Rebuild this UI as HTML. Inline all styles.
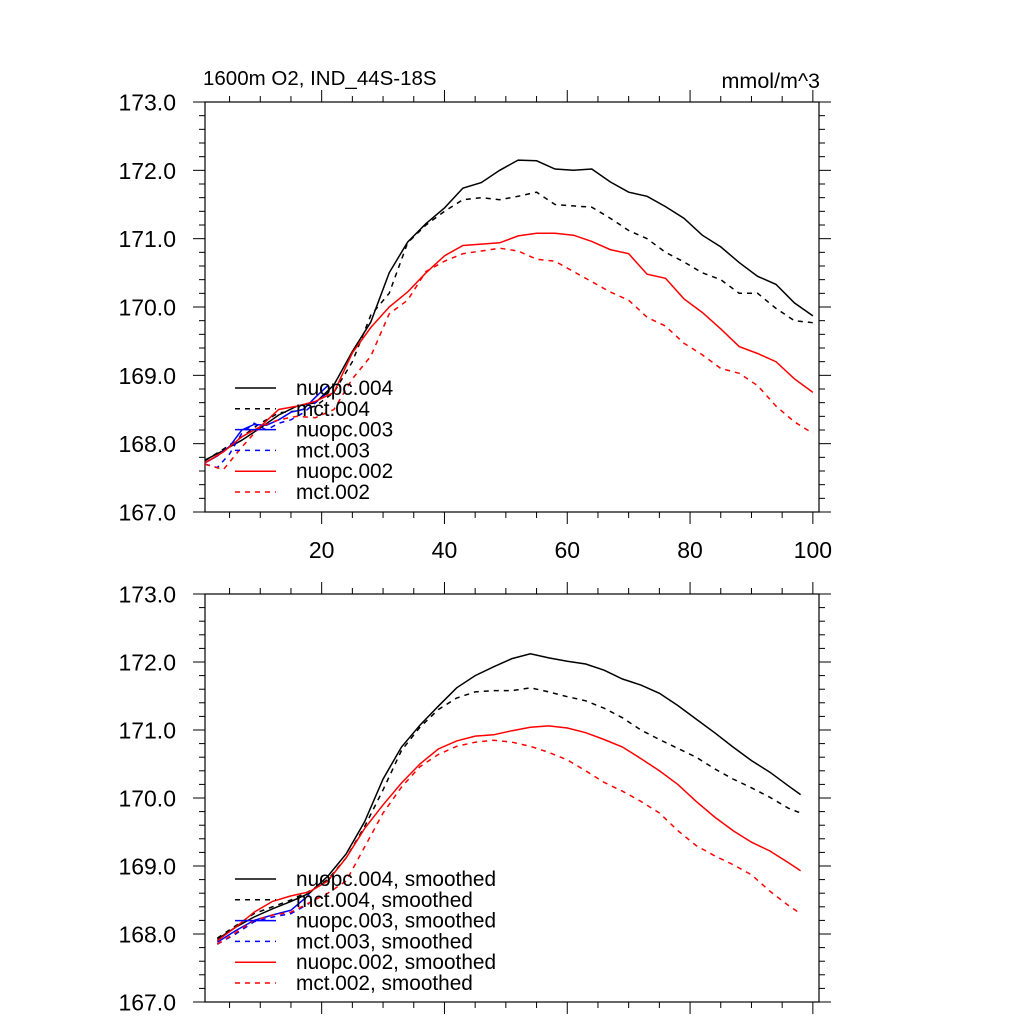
<!DOCTYPE html>
<html><head><meta charset="utf-8"><style>
body{margin:0;background:#fff;}
svg{display:block;font-family:"Liberation Sans",sans-serif;}
</style></head><body>
<svg id="chart" width="1024" height="1024" viewBox="0 0 1024 1024">
<text x="203" y="85" font-size="20.5">1600m O2, IND_44S-18S</text>
<text x="820" y="88" font-size="21.5" text-anchor="end">mmol/m^3</text>
</svg>
<script>
// ---- data ----
const yearsTop = [1,4,7,10,13,16,19,22,25,28,31,34,37,40,43,46,49,52,55,58,61,64,67,70,73,76,79,82,85,88,91,94,97,100];
const nuopc004 = [167.76,167.9,168.05,168.23,168.42,168.55,168.6,168.86,169.35,169.78,170.5,170.95,171.22,171.45,171.74,171.82,172.0,172.15,172.14,172.02,172.0,172.02,171.83,171.68,171.62,171.47,171.3,171.05,170.88,170.65,170.45,170.33,170.06,169.87];
const mct004 = [167.75,167.92,168.1,168.3,168.45,168.48,168.55,168.75,169.2,169.88,170.2,170.94,171.2,171.4,171.57,171.6,171.57,171.62,171.68,171.5,171.48,171.46,171.3,171.12,171.0,170.8,170.66,170.5,170.4,170.2,170.2,169.98,169.8,169.77];
const nuopc002 = [167.72,167.88,168.1,168.25,168.5,168.55,168.62,168.75,169.33,169.7,170.0,170.22,170.5,170.75,170.9,170.92,170.94,171.04,171.08,171.08,171.05,170.96,170.84,170.78,170.48,170.42,170.12,169.92,169.68,169.42,169.32,169.2,168.95,168.75];
const mct002 = [167.7,167.62,167.95,168.25,168.35,168.4,168.38,168.5,168.95,169.28,169.9,170.1,170.52,170.67,170.78,170.82,170.86,170.82,170.7,170.67,170.52,170.37,170.22,170.1,169.85,169.72,169.47,169.3,169.1,169.03,168.85,168.55,168.32,168.15];
const yearsBlueTop = [1,3,5,7,9,11,13,15,17,19,21];
const nuopc003 = [167.72,167.82,167.96,168.2,168.28,168.27,168.35,168.46,168.5,168.68,168.85];
const mct003 = [167.7,167.65,167.85,168.15,168.3,168.2,168.3,168.35,168.45,168.6,168.75];

const yearsBot = [3,6,9,12,15,18,21,24,27,30,33,36,39,42,45,48,51,54,57,60,63,66,69,72,75,78,81,84,87,90,93,96,98];
const nuopc004s = [167.92,168.1,168.25,168.37,168.48,168.6,168.85,169.18,169.65,170.28,170.75,171.07,171.35,171.62,171.8,171.93,172.05,172.12,172.06,172.01,171.97,171.88,171.75,171.66,171.54,171.36,171.16,170.96,170.75,170.55,170.38,170.18,170.05];
const mct004s = [167.94,168.12,168.3,168.4,168.5,168.63,168.8,169.12,169.58,170.12,170.7,171.04,171.3,171.47,171.56,171.58,171.58,171.62,171.56,171.49,171.43,171.32,171.18,171.0,170.86,170.73,170.6,170.43,170.28,170.15,170.01,169.85,169.78];
const nuopc002s = [167.9,168.1,168.32,168.48,168.56,168.62,168.78,169.12,169.55,169.9,170.22,170.5,170.72,170.84,170.91,170.93,170.99,171.04,171.06,171.03,170.96,170.86,170.75,170.58,170.4,170.2,169.95,169.72,169.52,169.35,169.22,169.05,168.93];
const mct002s = [167.85,168.02,168.2,168.28,168.32,168.46,168.6,168.78,169.28,169.78,170.16,170.46,170.64,170.76,170.82,170.85,170.82,170.76,170.67,170.56,170.4,170.23,170.1,169.95,169.78,169.52,169.3,169.15,169.02,168.87,168.63,168.42,168.3];
const yearsBlueBot = [3,6,9,12,15,18];
const nuopc003s = [167.88,168.05,168.2,168.28,168.35,168.58];
const mct003s = [167.85,168.0,168.18,168.25,168.3,168.45];

const yTicks = [167,168,169,170,171,172,173];
const xTicks = [20,40,60,80,100];
const legendTop = ["nuopc.004","mct.004","nuopc.003","mct.003","nuopc.002","mct.002"];
const legendBot = ["nuopc.004, smoothed","mct.004, smoothed","nuopc.003, smoothed","mct.003, smoothed","nuopc.002, smoothed","mct.002, smoothed"];

// ---- drawing ----
const NS = "http://www.w3.org/2000/svg";
const svg = document.getElementById("chart");
const X0 = 205, X1 = 819, XMIN = 1, XMAX = 101, YMIN = 167, YMAX = 173;
function mk(tag, attrs, parent){
  const e = document.createElementNS(NS, tag);
  for (const k in attrs) e.setAttribute(k, attrs[k]);
  (parent || svg).appendChild(e);
  return e;
}
const styles = [
  {c:"#000", d:null},{c:"#000", d:"5,5"},
  {c:"#0000ff", d:null},{c:"#0000ff", d:"5,5"},
  {c:"#ff0000", d:null},{c:"#ff0000", d:"5,5"}
];
function panel(top, bottom, name, showX, series, legend, legY){
  const sx = v => X0 + (v - XMIN) / (XMAX - XMIN) * (X1 - X0);
  const sy = v => bottom - (v - YMIN) / (YMAX - YMIN) * (bottom - top);
  const g = mk("g", {});
  
  
  const fr = mk("rect", {x:X0, y:top, width:X1-X0, height:bottom-top, fill:"none", stroke:"#000", "stroke-width":1.2}, g);
  
  
  for (let v = YMIN; v <= YMAX + 1e-6; v += 0.2) {
    const major = Math.abs(v - Math.round(v)) < 1e-6;
    const len = major ? 12 : 6, y = sy(v);
    mk("line", {x1:X0, x2:X0-len, y1:y, y2:y, stroke:"#000"}, g);
    mk("line", {x1:X1, x2:X1+len, y1:y, y2:y, stroke:"#000"}, g);
  }
  yTicks.forEach(v => {
    const t = mk("text", {x:176, y:sy(v)+8.5, "font-size":23, "text-anchor":"end"}, g);
    t.textContent = v.toFixed(1);
    
    
  });
  for (let v = 5; v <= 100; v += 5) {
    const major = v % 20 === 0, len = major ? 12 : 6, x = sx(v);
    mk("line", {x1:x, x2:x, y1:bottom, y2:bottom+len, stroke:"#000"}, g);
    mk("line", {x1:x, x2:x, y1:top, y2:top-len, stroke:"#000"}, g);
  }
  if (showX) xTicks.forEach(v => {
    const t = mk("text", {x:sx(v), y:bottom+46, "font-size":23, "text-anchor":"middle"}, g);
    t.textContent = v;
    
    
  });
  series.forEach((s, i) => {
    const pts = s.x.map((xv, j) => sx(xv).toFixed(1) + "," + sy(s.y[j]).toFixed(1)).join(" ");
    const p = mk("polyline", {points:pts, fill:"none", stroke:styles[i].c, "stroke-width":1.5}, g);
    if (styles[i].d) p.setAttribute("stroke-dasharray", styles[i].d);
    
    
  });
  legend.forEach((lab, i) => {
    const y = legY + i * 20.8;
    const l = mk("line", {x1:235, x2:276, y1:y, y2:y, stroke:styles[i].c, "stroke-width":1.5}, g);
    if (styles[i].d) l.setAttribute("stroke-dasharray", styles[i].d);
    
    
    const t = mk("text", {x:296, y:y+7, "font-size":20.8}, g);
    t.textContent = lab;
    
    
  });
}
panel(102, 512, "top-panel", true, [
  {x:yearsTop, y:nuopc004},{x:yearsTop, y:mct004},
  {x:yearsBlueTop, y:nuopc003},{x:yearsBlueTop, y:mct003},
  {x:yearsTop, y:nuopc002},{x:yearsTop, y:mct002}
], legendTop, 388);
panel(594, 1002, "bottom-panel", false, [
  {x:yearsBot, y:nuopc004s},{x:yearsBot, y:mct004s},
  {x:yearsBlueBot, y:nuopc003s},{x:yearsBlueBot, y:mct003s},
  {x:yearsBot, y:nuopc002s},{x:yearsBot, y:mct002s}
], legendBot, 879);
</script>
</body></html>
